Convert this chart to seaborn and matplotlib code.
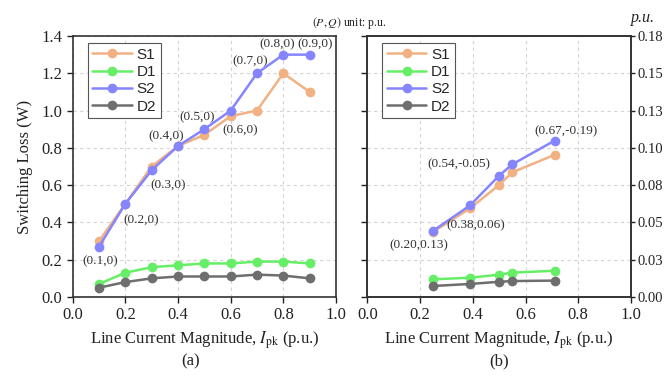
import numpy as np
import pandas as pd
import matplotlib
matplotlib.use("Agg")
import matplotlib.pyplot as plt
import seaborn as sns

# ---- data ----
series = ["S1", "D1", "S2", "D2"]
colors = ["#f2b183", "#66ee66", "#8585ff", "#6e6e6e"]

# panel (a): loss in W vs line current
xa = [0.1, 0.2, 0.3, 0.4, 0.5, 0.6, 0.7, 0.8, 0.9]
a_S1 = [0.30, 0.50, 0.70, 0.81, 0.87, 0.97, 1.00, 1.20, 1.10]
a_D1 = [0.07, 0.13, 0.16, 0.17, 0.18, 0.18, 0.19, 0.19, 0.18]
a_S2 = [0.27, 0.50, 0.68, 0.81, 0.90, 1.00, 1.20, 1.30, 1.30]
a_D2 = [0.05, 0.08, 0.10, 0.11, 0.11, 0.11, 0.12, 0.115, 0.10]
a_labels = ["(0.1,0)", "(0.2,0)", "(0.3,0)", "(0.4,0)", "(0.5,0)",
            "(0.6,0)", "(0.7,0)", "(0.8,0)", "(0.9,0)"]

# panel (b): loss in p.u. vs line current
xb = [0.25, 0.39, 0.50, 0.55, 0.71]
b_S1 = [0.0450, 0.0612, 0.0773, 0.0860, 0.0980]
b_D1 = [0.0122, 0.0133, 0.0154, 0.0168, 0.0181]
b_S2 = [0.0457, 0.0632, 0.0837, 0.0915, 0.1078]
b_D2 = [0.0076, 0.0090, 0.0105, 0.0110, 0.0113]
b_labels = ["(0.20,0.13)", "(0.38,0.06)", "(0.54,-0.05)", None, "(0.67,-0.19)"]

# ---- style ----
sns.set_theme(style="white")
plt.rcParams["font.family"] = ["Liberation Serif", "DejaVu Serif"]
plt.rcParams["mathtext.fontset"] = "stix"

df_a = pd.DataFrame({"x": xa * 4, "v": a_S1 + a_D1 + a_S2 + a_D2,
                     "series": sum([[s] * len(xa) for s in series], [])})
df_b = pd.DataFrame({"x": xb * 4, "v": b_S1 + b_D1 + b_S2 + b_D2,
                     "series": sum([[s] * len(xb) for s in series], [])})
pal = dict(zip(series, colors))

fig = plt.figure(figsize=(6.68, 3.77), dpi=100)
ax_a = fig.add_axes([0.1088, 0.2122, 0.3942, 0.6923])
ax_b = fig.add_axes([0.5498, 0.2122, 0.3948, 0.6923])
ax_b2 = ax_b.twinx()

line_kw = dict(marker="o", markersize=7, markeredgewidth=0, linewidth=1.8,
               palette=pal, hue_order=series)

sns.lineplot(data=df_a, x="x", y="v", hue="series", ax=ax_a, **line_kw)
sns.lineplot(data=df_b, x="x", y="v", hue="series", ax=ax_b2, **line_kw)

ax_a.set_xlim(0, 1.0)
ax_a.set_ylim(0, 1.4)
ax_b.set_xlim(0, 1.0)
ax_b.set_ylim(0, 1.4)
ax_b2.set_ylim(0, 0.18)

ticks_x = np.arange(0, 1.01, 0.2)
ticks_y = np.arange(0, 1.41, 0.2)
for ax in (ax_a, ax_b):
    ax.set_xticks(ticks_x)
    ax.set_xticklabels([f"{t:.1f}" for t in ticks_x], fontsize=12)
    ax.set_yticks(ticks_y)
    ax.grid(True, linestyle=(0, (3, 3)), color="#d4d4d4", linewidth=0.8)
    ax.tick_params(axis="both", direction="out", length=4, width=1,
                   colors="#222222", labelcolor="#222222", bottom=True, left=True)
    for sp in ax.spines.values():
        sp.set_color("#333333")
        sp.set_linewidth(1.2)
    ax.set_xlabel("Line Current Magnitude, $I_{\\rm pk}$ (p.u.)", fontsize=12,
                  color="#222222", labelpad=4)

ax_a.set_yticklabels([f"{t:.1f}" for t in ticks_y], fontsize=12)
ax_a.set_ylabel("Switching Loss (W)", fontsize=12, color="#222222", labelpad=6)
ax_b.set_yticklabels([])
ax_b.set_ylabel("")

ticks_r = np.linspace(0, 0.18, 8)
ax_b2.set_yticks(ticks_r)
ax_b2.set_yticklabels([f"{t:.2f}" for t in ticks_r], fontsize=10.5)
ax_b2.tick_params(axis="y", direction="out", length=3, width=1, pad=1.5,
                  colors="#222222", labelcolor="#222222", right=True)
ax_b2.set_ylabel("")
ax_b2.grid(False)
for sp in ax_b2.spines.values():
    sp.set_color("#333333")
    sp.set_linewidth(1.2)

# legends
for ax in (ax_a, ax_b2):
    h, l = ax.get_legend_handles_labels()
    leg = ax.legend(h, l, loc="upper left", bbox_to_anchor=(0.045, 0.985),
                    prop={"family": "Liberation Sans", "size": 11},
                    frameon=True, fancybox=False, framealpha=1,
                    edgecolor="#555555", handlelength=2.6, handletextpad=0.3,
                    labelspacing=0.22, borderpad=0.3, borderaxespad=0.2)
    leg.get_frame().set_linewidth(0.8)

# annotations panel (a), placed relative to S2 points
offs_a = [(1, -15), (16, -16), (16, -15), (-12, 10), (-7, 12),
          (10, -20), (-7, 12), (-6, 10), (5, 10)]
for x, y, lab, o in zip(xa, a_S2, a_labels, offs_a):
    ax_a.annotate(lab, (x, y), xytext=o, textcoords="offset pixels",
                  ha="center", va="center", fontsize=9.5, color="#333333")

offs_b = [(-14, -15), (6, -20), (-40, 11), None, (11, 9)]
for x, y, lab, o in zip(xb, b_S2, b_labels, offs_b):
    if lab is None:
        continue
    ax_b2.annotate(lab, (x, y), xytext=o, textcoords="offset pixels",
                   ha="center", va="center", fontsize=9.5, color="#333333")

# titles / extra text
fig.text(0.523, 0.94, "$(P,Q)$ unit: p.u.", ha="center", va="center",
         fontsize=8.5, color="#222222")
fig.text(0.962, 0.952, "p.u.", ha="center", va="center", fontsize=11.5,
         style="italic", color="#222222")
fig.text(0.2855, 0.02, "(a)", ha="center", va="bottom", fontsize=12, color="#222222")
fig.text(0.7472, 0.02, "(b)", ha="center", va="bottom", fontsize=12, color="#222222")

fig.savefig("out.png", dpi=100)
